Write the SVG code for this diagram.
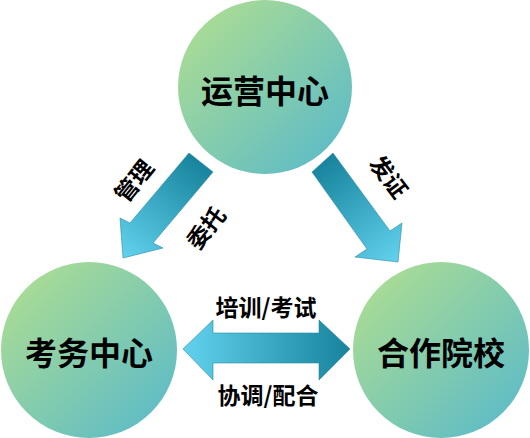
<svg xmlns="http://www.w3.org/2000/svg" width="530" height="438" viewBox="0 0 530 438">
<style>
.node{stroke:none}
.lbl{font-family:"Noto Sans CJK SC","Noto Sans",sans-serif;font-weight:700;fill:#000;text-anchor:middle;dominant-baseline:central}
.big{font-size:32px}
.sm{font-size:23px}
.arr{stroke:#2a8aa0;stroke-width:0.6}
</style>
<defs>
<linearGradient id="cg" x1="0" y1="0" x2="1" y2="1">
<stop offset="0" stop-color="#b4e08e"/>
<stop offset="1" stop-color="#55b8cc"/>
</linearGradient>
<linearGradient id="ga" gradientUnits="userSpaceOnUse" x1="201" y1="162" x2="123" y2="258">
<stop offset="0" stop-color="#17839c"/>
<stop offset="1" stop-color="#62d2ee"/>
</linearGradient>
<linearGradient id="gb" gradientUnits="userSpaceOnUse" x1="322" y1="162" x2="398" y2="262">
<stop offset="0" stop-color="#17839c"/>
<stop offset="1" stop-color="#62d2ee"/>
</linearGradient>
<linearGradient id="gc" gradientUnits="userSpaceOnUse" x1="183" y1="349" x2="350" y2="349">
<stop offset="0" stop-color="#62d2ee"/>
<stop offset="1" stop-color="#17839c"/>
</linearGradient>
</defs>
<g id="connectors">
<polygon class="arr" fill="url(#ga)" points="189,153 213,172 153,243 163,248 123,258 120,218 130,223"/>
<polygon class="arr" fill="url(#gb)" points="312,172 333,153 390,231 402,223 398,262 355,257 367,249"/>
<polygon class="arr" fill="url(#gc)" points="183,349 213,320 213,333 319,333 319,320 350,349 319,380 319,363 213,363 213,380"/>
<text class="lbl sm" transform="translate(133,180) rotate(-51)">管理</text>
<text class="lbl sm" transform="translate(205,227) rotate(-51)">委托</text>
<text class="lbl sm" transform="translate(390,176) rotate(53)">发证</text>
<text class="lbl sm" x="266" y="306">培训/考试</text>
<text class="lbl sm" x="268" y="394">协调/配合</text>
</g>
<g id="yunying">
<circle class="node" cx="265" cy="87" r="87" fill="url(#cg)"/>
<text class="lbl big" x="265" y="89">运营中心</text>
</g>
<g id="kaowu">
<circle class="node" cx="89" cy="350" r="88" fill="url(#cg)"/>
<text class="lbl big" x="89" y="351">考务中心</text>
</g>
<g id="hezuo">
<circle class="node" cx="441" cy="350" r="88" fill="url(#cg)"/>
<text class="lbl big" x="441" y="351">合作院校</text>
</g>
</svg>
